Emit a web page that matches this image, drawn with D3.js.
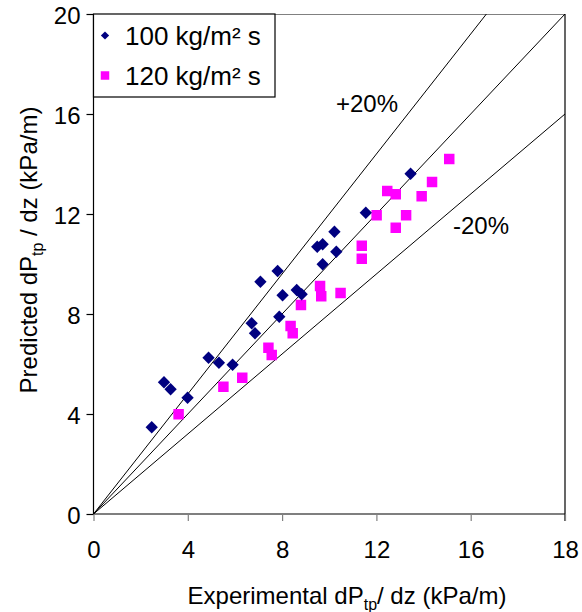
<!DOCTYPE html>
<html>
<head>
<meta charset="utf-8">
<script src="https://cdn.jsdelivr.net/npm/d3@7"></script>
<style>
html,body{margin:0;padding:0;background:#fff;}
svg text{font-family:"Liberation Sans",Arial,sans-serif;fill:#000;}
</style>
</head>
<body>
<svg id="chart" width="582" height="612"></svg>
<script>
// ---- data ----
const series100X = [2.47,2.99,3.27,3.99,4.88,5.32,5.90,6.71,6.85,7.08,7.81,8.02,7.88,8.62,8.83,9.49,9.72,10.22,10.30,9.72,11.55,13.45];
const series100Y = [3.47,5.27,4.99,4.65,6.25,6.05,5.97,7.63,7.23,9.29,9.72,8.75,7.89,8.96,8.79,10.69,10.79,11.29,10.49,9.99,12.05,13.61];
const series120X = [3.61,5.51,6.31,7.42,7.56,8.36,8.45,8.80,9.61,9.66,10.48,11.38,11.38,12.01,12.46,12.82,12.82,13.26,13.92,14.36,15.09];
const series120Y = [3.99,5.09,5.45,6.65,6.36,7.52,7.23,8.36,9.12,8.71,8.84,10.73,10.21,11.95,12.92,12.79,11.45,11.95,12.71,13.28,14.20];
const seriesNames = ["100 kg/m² s","120 kg/m² s"];
const refSlopes = [1.2, 1.0, 0.8];
const refLabels = ["+20%","-20%"];
const xTickValues = [0,4,8,12,16,20];
const xTickLabels = ["0","4","8","12","16","18"];
const yTickValues = [0,4,8,12,16,20];
const yTickLabels = ["0","4","8","12","16","20"];

// ---- layout ----
const L = 93.5, R = 565, T = 14, B = 514;
const svg = d3.select("#chart");
const x = d3.scaleLinear().domain([0,20]).range([L,R]);
const y = d3.scaleLinear().domain([0,20]).range([B,T]);

// clip
svg.append("defs").append("clipPath").attr("id","clip")
  .append("rect").attr("x",L).attr("y",T).attr("width",R-L).attr("height",B-T);

// frame: top (gray) and right (black)
svg.append("line").attr("x1",L).attr("x2",R).attr("y1",T+0.5).attr("y2",T+0.5)
  .attr("stroke","#808080").attr("stroke-width",1.2);
svg.append("line").attr("x1",R).attr("x2",R).attr("y1",T).attr("y2",B+7)
  .attr("stroke","#000").attr("stroke-width",1.2);

// reference lines
const gl = svg.append("g").attr("clip-path","url(#clip)");
refSlopes.forEach(s=>{
  gl.append("line").attr("x1",x(0)).attr("y1",y(0))
    .attr("x2",x(20)).attr("y2",y(20*s))
    .attr("stroke","#000").attr("stroke-width",1);
});

// axes
const xAxis = d3.axisBottom(x).tickValues(xTickValues)
  .tickFormat((d,i)=>xTickLabels[i]).tickSize(7).tickPadding(19);
const gx = svg.append("g").attr("transform",`translate(0,${B})`).call(xAxis);
gx.select(".domain").attr("stroke","#000").attr("stroke-width",1.2).attr("d",`M${L},0H${R}`);
gx.selectAll(".tick line").attr("stroke","#808080").attr("stroke-width",1.2);
gx.selectAll(".tick text").attr("font-size",24).attr("font-family","Liberation Sans, Arial, sans-serif").attr("dy","0.71em").attr("y",27);

const yAxis = d3.axisLeft(y).tickValues(yTickValues)
  .tickFormat((d,i)=>yTickLabels[i]).tickSize(7).tickPadding(6);
const gy = svg.append("g").attr("transform",`translate(${L},0)`).call(yAxis);
gy.select(".domain").attr("stroke","#000").attr("stroke-width",1.2).attr("d",`M0,${T}V${B}`);
gy.selectAll(".tick line").attr("stroke","#000").attr("stroke-width",1.2);
gy.selectAll(".tick text").attr("font-size",24).attr("font-family","Liberation Sans, Arial, sans-serif").attr("x",-13).attr("dy","0.4em");

// points
const diamond = d3.symbol().type(d3.symbolSquare).size(76);
const square = d3.symbol().type(d3.symbolSquare).size(110);
const d100 = series100X.map((v,i)=>({x:v,y:series100Y[i]}));
const d120 = series120X.map((v,i)=>({x:v,y:series120Y[i]}));
svg.append("g").selectAll("path").data(d120).join("path")
  .attr("d",square).attr("fill","#ff00ff")
  .attr("transform",d=>`translate(${x(d.x)},${y(d.y)})`);
svg.append("g").selectAll("path").data(d100).join("path")
  .attr("d",diamond).attr("fill","#000080")
  .attr("transform",d=>`translate(${x(d.x)},${y(d.y)}) rotate(45)`);

// annotations
svg.append("text").attr("x",367).attr("y",112).attr("text-anchor","middle").attr("font-size",24).text(refLabels[0]);
svg.append("text").attr("x",481).attr("y",234).attr("text-anchor","middle").attr("font-size",24).text(refLabels[1]);

// legend
const lg = svg.append("g");
lg.append("rect").attr("x",L).attr("y",T).attr("width",275-L).attr("height",97-T)
  .attr("fill","#fff").attr("stroke","#000").attr("stroke-width",1.2);
lg.append("path").attr("d",d3.symbol().type(d3.symbolSquare).size(34)())
  .attr("fill","#000080").attr("transform","translate(105,35.5) rotate(45)");
lg.append("path").attr("d",d3.symbol().type(d3.symbolSquare).size(72)())
  .attr("fill","#ff00ff").attr("transform","translate(105,75.5)");
lg.append("text").attr("x",125).attr("y",44.5).attr("font-size",26).text(seriesNames[0]);
lg.append("text").attr("x",125).attr("y",84.5).attr("font-size",26).text(seriesNames[1]);

// axis titles
const xt = svg.append("text").attr("x",347).attr("y",604).attr("text-anchor","middle").attr("font-size",24);
xt.append("tspan").text("Experimental dP");
xt.append("tspan").attr("font-size",16).attr("dy",6).text("tp");
xt.append("tspan").attr("dy",-6).text("/ dz (kPa/m)");

const yt = svg.append("text").attr("transform","translate(37,250) rotate(-90)")
  .attr("text-anchor","middle").attr("font-size",24);
yt.append("tspan").text("Predicted dP");
yt.append("tspan").attr("font-size",16).attr("dy",6).text("tp");
yt.append("tspan").attr("dy",-6).text(" / dz (kPa/m)");
</script>
</body>
</html>
